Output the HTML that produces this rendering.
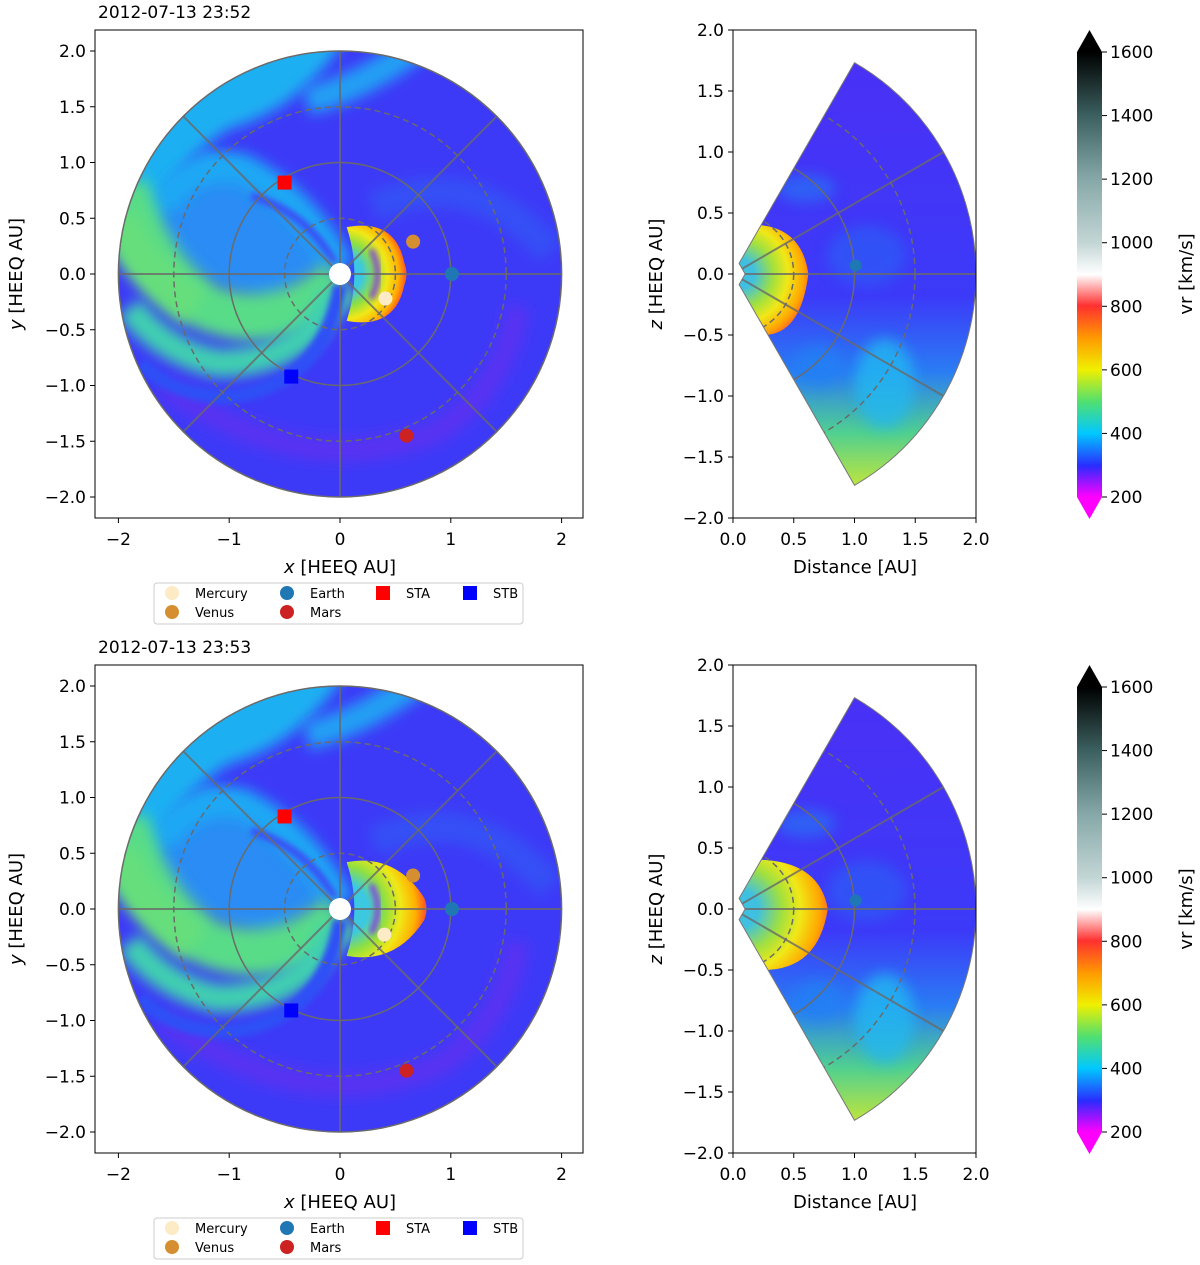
<!DOCTYPE html>
<html><head><meta charset="utf-8">
<style>
body{margin:0;background:#fff;}
svg{display:block;font-family:"DejaVu Sans","Liberation Sans",sans-serif;}
</style></head>
<body>
<svg id="fig" width="1200" height="1265" viewBox="0 0 1200 1265" xmlns="http://www.w3.org/2000/svg">
<defs>
<linearGradient id="cbar" x1="0" y1="1" x2="0" y2="0">
<stop offset="0" stop-color="#ff00ff"/><stop offset="0.07" stop-color="#2a2cff"/>
<stop offset="0.143" stop-color="#00c8ff"/><stop offset="0.214" stop-color="#50e070"/>
<stop offset="0.286" stop-color="#f0f000"/><stop offset="0.357" stop-color="#ff9a00"/>
<stop offset="0.43" stop-color="#ff3030"/><stop offset="0.5" stop-color="#ffffff"/>
<stop offset="0.57" stop-color="#c4d6d6"/><stop offset="0.714" stop-color="#86a8a8"/>
<stop offset="0.857" stop-color="#3c6060"/><stop offset="1" stop-color="#000000"/>
</linearGradient>
<linearGradient id="wedgeg" x1="0" y1="0" x2="0" y2="1">
<stop offset="0" stop-color="#4a30f6"/><stop offset="0.55" stop-color="#3c3af8"/>
<stop offset="0.72" stop-color="#2a7cf4"/><stop offset="0.86" stop-color="#50d090"/>
<stop offset="1" stop-color="#d0e830"/>
</linearGradient>
<filter id="blur6" x="-50%" y="-50%" width="200%" height="200%"><feGaussianBlur stdDeviation="7"/></filter>
<filter id="blur3" x="-50%" y="-50%" width="200%" height="200%"><feGaussianBlur stdDeviation="3"/></filter>
</defs>
</svg>
<script>
const xTicks=[-2,-1,0,1,2];
const yTicks=[-2.0,-1.5,-1.0,-0.5,0.0,0.5,1.0,1.5,2.0];
const dTicks=[0.0,0.5,1.0,1.5,2.0];
const cbTicks=[200,400,600,800,1000,1200,1400,1600];
const titles=["2012-07-13 23:52","2012-07-13 23:53"];
const planetNames=["Mercury","Venus","Earth","Mars","STA","STB"];
const planetColors=["#fcebc4","#d68f30","#1f77b4","#cc2222","#ff0000","#0000ff"];
const planetX=[[0.41,0.66,1.01,0.60,-0.50,-0.44],[0.40,0.66,1.01,0.60,-0.50,-0.44]];
const planetY=[[-0.22,0.29,0.0,-1.45,0.82,-0.92],[-0.23,0.30,0.0,-1.45,0.83,-0.91]];
const earthMerX=[1.01,1.01];
const earthMerZ=[0.07,0.07];
const cmeExtent=[0.6,0.78];
const cmeMerExtent=[0.62,0.78];

const NS="http://www.w3.org/2000/svg";
const svg=document.getElementById('fig');
const defs=svg.querySelector('defs');
function el(tag,attrs,parent){const e=document.createElementNS(NS,tag);for(const k in attrs)e.setAttribute(k,attrs[k]);(parent||svg).appendChild(e);return e;}
function txt(s,attrs,parent){const e=el('text',attrs,parent);e.textContent=s;return e;}
function fmt(v){return (v<0?'\u2212':'')+Math.abs(v).toFixed(1);}
function radGrad(id,cx,cy,r,stops){const g=el('radialGradient',{id:id,gradientUnits:'userSpaceOnUse',cx:cx,cy:cy,r:r},defs);stops.forEach(s=>el('stop',{offset:s[0],'stop-color':s[1]},g));}

for(let p=0;p<2;p++){
  const off=p*635;
  const L={x0:95,x1:583,y0:30+off,y1:518+off};
  const sx=v=>340+v*110.8, sy=v=>274+off-v*111.5;
  const g=el('g',{});
  
  
  const cid='clipc'+p;
  const cp=el('clipPath',{id:cid},g); el('ellipse',{cx:sx(0),cy:sy(0),rx:221.6,ry:223},cp);
  const cg=el('g',{'clip-path':`url(#${cid})`},g);
  el('rect',{x:100,y:sy(2.1),width:480,height:480,fill:'#3d3af7'},cg);
  el('path',{d:`M ${sx(0.3)} ${sy(0.6)} Q ${sx(1.2)} ${sy(1.0)} ${sx(1.9)} ${sy(0.2)}`,stroke:'#3550f6',fill:'none','stroke-width':30,filter:'url(#blur6)'},cg);
  el('path',{d:`M ${sx(-1.6)} ${sy(-1.0)} Q ${sx(-0.3)} ${sy(-1.9)} ${sx(0.9)} ${sy(-1.4)} Q ${sx(1.5)} ${sy(-1.0)} ${sx(1.6)} ${sy(-0.3)}`,stroke:'#5a30f2',fill:'none','stroke-width':22,filter:'url(#blur6)'},cg);
  // cyan-ish interior of spiral (upper-left)
  el('path',{d:`M ${sx(-0.1)} ${sy(0.1)} Q ${sx(-0.5)} ${sy(0.9)} ${sx(-1.2)} ${sy(1.1)} L ${sx(-1.8)} ${sy(0.6)} Q ${sx(-1.5)} ${sy(-0.1)} ${sx(-0.6)} ${sy(-0.25)} Z`,fill:'#2a8cf4',filter:'url(#blur6)'},cg);
  el('path',{d:`M ${sx(0.1)} ${sy(2.2)} Q ${sx(-0.3)} ${sy(1.5)} ${sx(-1.0)} ${sy(1.3)} Q ${sx(-1.5)} ${sy(1.0)} ${sx(-1.7)} ${sy(0.4)} L ${sx(-2.3)} ${sy(0.4)} L ${sx(-2.3)} ${sy(2.3)} Z`,fill:'#1cb0f2',filter:'url(#blur6)'},cg);
  el('path',{d:`M ${sx(0.9)} ${sy(2.2)} Q ${sx(0.3)} ${sy(1.7)} ${sx(-0.3)} ${sy(1.55)}`,stroke:'#24a0f4',fill:'none','stroke-width':28,filter:'url(#blur6)'},cg);
  el('path',{d:`M ${sx(0)} ${sy(0.05)} Q ${sx(-0.35)} ${sy(0.7)} ${sx(-0.9)} ${sy(0.95)} Q ${sx(-1.4)} ${sy(1.0)} ${sx(-1.6)} ${sy(0.6)}`,stroke:'#1ea8f4',fill:'none','stroke-width':30,filter:'url(#blur6)'},cg);
  el('path',{d:`M ${sx(-0.05)} ${sy(0.1)} Q ${sx(-0.3)} ${sy(0.55)} ${sx(-0.8)} ${sy(0.7)}`,stroke:'#3a50f6',fill:'none','stroke-width':8,filter:'url(#blur3)'},cg);
  el('path',{d:`M ${sx(0)} ${sy(-0.05)} Q ${sx(-0.55)} ${sy(-0.55)} ${sx(-1.2)} ${sy(-0.3)} Q ${sx(-1.75)} ${sy(0.05)} ${sx(-1.95)} ${sy(0.8)}`,stroke:'#58dc88',fill:'none','stroke-width':48,filter:'url(#blur6)'},cg);
  el('path',{d:`M ${sx(-1.3)} ${sy(-0.3)} Q ${sx(-1.8)} ${sy(0.0)} ${sx(-2.0)} ${sy(0.5)}`,stroke:'#66de7c',fill:'none','stroke-width':40,filter:'url(#blur6)'},cg);
  el('path',{d:`M ${sx(-0.05)} ${sy(-0.15)} Q ${sx(-0.3)} ${sy(-0.8)} ${sx(-1.1)} ${sy(-0.8)} Q ${sx(-1.6)} ${sy(-0.7)} ${sx(-1.9)} ${sy(-0.3)}`,stroke:'#40d0b0',fill:'none','stroke-width':28,filter:'url(#blur6)'},cg);
  el('path',{d:`M ${sx(0.0)} ${sy(-0.1)} Q ${sx(-0.15)} ${sy(-1.0)} ${sx(-1.0)} ${sy(-1.1)} Q ${sx(-1.5)} ${sy(-1.1)} ${sx(-1.8)} ${sy(-0.8)}`,stroke:'#2f50f6',fill:'none','stroke-width':14,filter:'url(#blur3)'},cg);
  const ce=cmeExtent[p];
  radGrad('cmeg'+p,sx(0.02),sy(0),(ce)*110.8,[[0.3,'#3cc8e0'],[0.5,'#90e040'],[0.68,'#f0e818'],[0.85,'#ffb000'],[0.96,'#ff5a20'],[1,'#ff8000']]);
  el('path',{d:`M ${sx(0.06)} ${sy(0.42)} Q ${sx(0.5)} ${sy(0.5)} ${sx(ce-0.02)} ${sy(0.1)} Q ${sx(ce+0.02)} ${sy(0)} ${sx(ce-0.02)} ${sy(-0.1)} Q ${sx(0.5)} ${sy(-0.5)} ${sx(0.06)} ${sy(-0.42)} Q ${sx(0.2)} ${sy(0)} ${sx(0.06)} ${sy(0.42)} Z`,fill:`url(#cmeg${p})`},cg);
  el('path',{d:`M ${sx(0.28)} ${sy(0.22)} Q ${sx(0.4)} ${sy(0)} ${sx(0.28)} ${sy(-0.22)}`,stroke:'#8030f0',fill:'none','stroke-width':5,filter:'url(#blur3)'},cg);
  for(let a=0;a<180;a+=45){const r=a*Math.PI/180;el('line',{x1:sx(-2*Math.cos(r)),y1:sy(-2*Math.sin(r)),x2:sx(2*Math.cos(r)),y2:sy(2*Math.sin(r)),stroke:'#6a6a6a','stroke-width':2,opacity:0.8},cg);}
  el('ellipse',{cx:sx(0),cy:sy(0),rx:110.8,ry:111.5,fill:'none',stroke:'#6a6a6a','stroke-width':1.5},cg);
  el('ellipse',{cx:sx(0),cy:sy(0),rx:55.4,ry:55.7,fill:'none',stroke:'#6a6a6a','stroke-width':1.5,'stroke-dasharray':'6,4'},cg);
  el('ellipse',{cx:sx(0),cy:sy(0),rx:166.2,ry:167.2,fill:'none',stroke:'#6a6a6a','stroke-width':1.5,'stroke-dasharray':'6,4'},cg);
  el('ellipse',{cx:sx(0),cy:sy(0),rx:221.6,ry:223,fill:'none',stroke:'#6a6a6a','stroke-width':1.5},g);
  const sun=el('circle',{cx:sx(0),cy:sy(0),r:11,fill:'#fff'},g);
  
  
  for(let i=0;i<6;i++){
    const X=sx(planetX[p][i]),Y=sy(planetY[p][i]);
    let m;
    if(i<4) m=el('circle',{cx:X,cy:Y,r:7,fill:planetColors[i]},g);
    else m=el('rect',{x:X-7,y:Y-7,width:14,height:14,fill:planetColors[i]},g);
    
    
  }
  el('rect',{x:L.x0,y:L.y0,width:L.x1-L.x0,height:L.y1-L.y0,fill:'none',stroke:'#000','stroke-width':1},g);
  xTicks.forEach(v=>{el('line',{x1:sx(v),y1:L.y1,x2:sx(v),y2:L.y1+5,stroke:'#000'},g);txt(v<0?'\u2212'+Math.abs(v):String(v),{x:sx(v),y:L.y1+27,'text-anchor':'middle','font-size':17},g);});
  yTicks.forEach(v=>{el('line',{x1:L.x0-5,y1:sy(v),x2:L.x0,y2:sy(v),stroke:'#000'},g);txt(fmt(v),{x:L.x0-9,y:sy(v)+6,'text-anchor':'end','font-size':17},g);});
  const xt=txt('',{x:340,y:L.y1+55,'text-anchor':'middle','font-size':18},g);
  xt.innerHTML='<tspan font-style="italic">x</tspan> [HEEQ AU]';
  
  
  const yt=txt('',{transform:`translate(22,${274+off}) rotate(-90)`,'text-anchor':'middle','font-size':18},g);
  yt.innerHTML='<tspan font-style="italic">y</tspan> [HEEQ AU]';
  
  
  const tt=txt(titles[p],{x:98,y:18+off,'font-size':17},g);
  
  
  const lg=el('g',{},g);
  
  
  el('rect',{x:154,y:583+off,width:369,height:41,rx:3,fill:'#fff',stroke:'#ccc'},lg);
  const lx=[172,287,383,470,172,287], ly=[593,593,593,593,612,612];
  const order=[0,2,4,5,1,3];
  order.forEach((i,k)=>{
    const X=lx[k],Y=ly[k]+off;
    if(i<4) el('circle',{cx:X,cy:Y,r:7,fill:planetColors[i]},lg);
    else el('rect',{x:X-7,y:Y-7,width:14,height:14,fill:planetColors[i]},lg);
    const t=txt(planetNames[i],{x:X+23,y:Y+5,'font-size':13},lg);
    
    
  });

  const R={x0:733,x1:976,y0:30+off,y1:518+off};
  const dx=v=>733+v*121.5, dz=v=>274+off-v*122;
  const h=el('g',{});
  
  
  const wid='clipw'+p;
  const wp=el('clipPath',{id:wid},h);
  const wedge=`M ${dx(0.05)} ${dz(0.087)} L ${dx(1)} ${dz(1.732)} A 243 244 0 0 1 ${dx(1)} ${dz(-1.732)} L ${dx(0.05)} ${dz(-0.087)} L ${dx(0.1)} ${dz(0)} Z`;
  el('path',{d:wedge},wp);
  const wg=el('g',{'clip-path':`url(#${wid})`},h);
  el('rect',{x:730,y:dz(1.8),width:250,height:440,fill:'url(#wedgeg)'},wg);
  el('ellipse',{cx:dx(1.25),cy:dz(-0.9),rx:30,ry:45,fill:'#20b8f0',opacity:0.8,filter:'url(#blur6)'},wg);
  el('ellipse',{cx:dx(0.7),cy:dz(-0.75),rx:25,ry:20,fill:'#2080f4',opacity:0.8,filter:'url(#blur6)'},wg);
  el('ellipse',{cx:dx(0.6),cy:dz(0.7),rx:30,ry:14,fill:'#2a6cf4',opacity:0.8,filter:'url(#blur6)'},wg);
  el('ellipse',{cx:dx(1.1),cy:dz(0.15),rx:40,ry:30,fill:'#2e58f6',opacity:0.8,filter:'url(#blur6)'},wg);
  const me=cmeMerExtent[p];
  radGrad('cmem'+p,dx(0.05),dz(0),me*121.5,[[0.2,'#40c0e0'],[0.45,'#a0e040'],[0.65,'#f0e818'],[0.85,'#ffa800'],[0.95,'#ff7020'],[1,'#e8e020']]);
  el('path',{d:`M ${dx(0.05)} ${dz(0.4)} Q ${dx(me*0.9)} ${dz(0.45)} ${dx(me)} ${dz(0)} Q ${dx(me*0.9)} ${dz(-0.5)} ${dx(0.25)} ${dz(-0.5)} L ${dx(0.05)} ${dz(-0.1)} Z`,fill:`url(#cmem${p})`},wg);
  el('circle',{cx:dx(0.1),cy:dz(-0.27),r:6,fill:'#ff10f0'},wg);
  [30,-30].forEach(a=>{const r=a*Math.PI/180;el('line',{x1:dx(0),y1:dz(0),x2:dx(2*Math.cos(r)),y2:dz(2*Math.sin(r)),stroke:'#6a6a6a','stroke-width':2,opacity:0.8},wg);});
  el('line',{x1:dx(0),y1:dz(0),x2:dx(2),y2:dz(0),stroke:'#6a6a6a','stroke-width':2,opacity:0.8},wg);
  el('ellipse',{cx:dx(0),cy:dz(0),rx:121.5,ry:122,fill:'none',stroke:'#6a6a6a','stroke-width':1.5},wg);
  el('ellipse',{cx:dx(0),cy:dz(0),rx:60.7,ry:61,fill:'none',stroke:'#6a6a6a','stroke-width':1.5,'stroke-dasharray':'6,4'},wg);
  el('ellipse',{cx:dx(0),cy:dz(0),rx:182,ry:183,fill:'none',stroke:'#6a6a6a','stroke-width':1.5,'stroke-dasharray':'6,4'},wg);
  el('path',{d:wedge,fill:'none',stroke:'#777','stroke-width':1},h);
  const em=el('circle',{cx:dx(earthMerX[p]),cy:dz(earthMerZ[p]),r:6,fill:'#1f77b4'},h);
  
  
  el('rect',{x:R.x0,y:R.y0,width:R.x1-R.x0,height:R.y1-R.y0,fill:'none',stroke:'#000'},h);
  dTicks.forEach(v=>{el('line',{x1:dx(v),y1:R.y1,x2:dx(v),y2:R.y1+5,stroke:'#000'},h);txt(v.toFixed(1),{x:dx(v),y:R.y1+27,'text-anchor':'middle','font-size':17},h);});
  yTicks.forEach(v=>{el('line',{x1:R.x0-5,y1:dz(v),x2:R.x0,y2:dz(v),stroke:'#000'},h);txt(fmt(v),{x:R.x0-9,y:dz(v)+6,'text-anchor':'end','font-size':17},h);});
  const dt=txt('Distance [AU]',{x:855,y:R.y1+55,'text-anchor':'middle','font-size':18},h);
  
  
  const zt=txt('',{transform:`translate(662,${274+off}) rotate(-90)`,'text-anchor':'middle','font-size':18},h);
  zt.innerHTML='<tspan font-style="italic">z</tspan> [HEEQ AU]';
  
  

  const cb=el('g',{});
  
  
  const cy=v=>497+off-(v-200)*(445/1400);
  el('path',{d:`M 1077 ${cy(1600)} L 1089.5 ${30+off} L 1102 ${cy(1600)} Z`,fill:'#000'},cb);
  el('path',{d:`M 1077 ${cy(200)} L 1089.5 ${519+off} L 1102 ${cy(200)} Z`,fill:'#ff00ff'},cb);
  el('rect',{x:1077,y:cy(1600),width:25,height:445,fill:'url(#cbar)'},cb);
  cbTicks.forEach(v=>{el('line',{x1:1102,y1:cy(v),x2:1107,y2:cy(v),stroke:'#000'},cb);txt(String(v),{x:1110,y:cy(v)+6,'font-size':17},cb);});
  const cl=txt('vr  [km/s]',{transform:`translate(1192,${274+off}) rotate(-90)`,'text-anchor':'middle','font-size':18},cb);
  
  
}
</script>
</body></html>
